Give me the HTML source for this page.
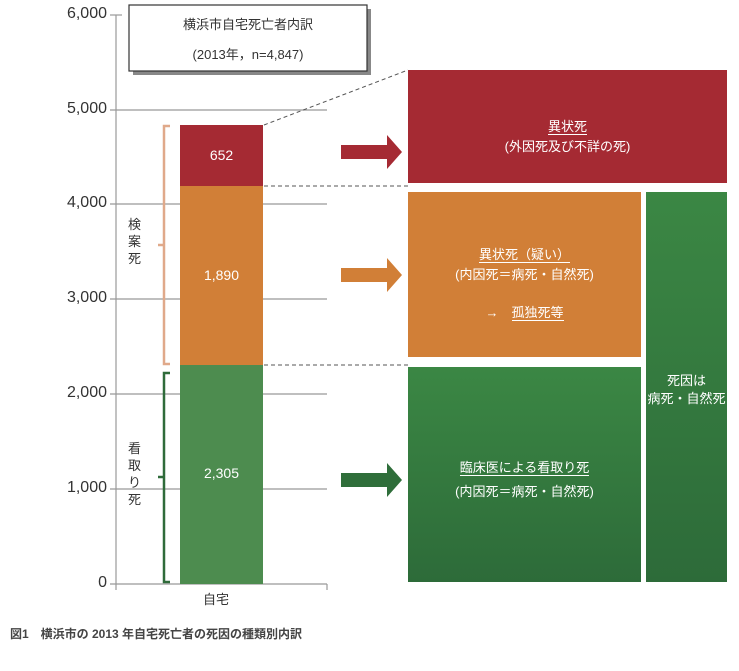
<!DOCTYPE html>
<html><head><meta charset="utf-8"><style>
body{margin:0;background:#fff;width:739px;height:671px;overflow:hidden;position:relative;font-family:"Liberation Sans","Noto Sans CJK JP",sans-serif;}
.a{position:absolute}
.t{position:absolute;font-size:13px;color:#333;}
.y{position:absolute;left:40px;width:67px;text-align:right;font-size:16px;color:#333;}
</style></head><body>
<svg class="a" style="left:0;top:0" width="739" height="671">
<defs>
<linearGradient id="g" x1="0" y1="0" x2="0" y2="1"><stop offset="0" stop-color="#3b8744"/><stop offset="1" stop-color="#2d6b39"/></linearGradient>
</defs>
<g stroke="#999" stroke-width="1.2">
<line x1="116" y1="15" x2="116" y2="590"/>
<line x1="110" y1="15" x2="122" y2="15"/>
<line x1="110" y1="110" x2="327" y2="110"/>
<line x1="110" y1="204" x2="327" y2="204"/>
<line x1="110" y1="299" x2="327" y2="299"/>
<line x1="110" y1="394" x2="327" y2="394"/>
<line x1="110" y1="489" x2="327" y2="489"/>
<line x1="110" y1="584" x2="327" y2="584"/>
<line x1="327" y1="584" x2="327" y2="590"/>
</g>
<rect x="133" y="9" width="238" height="66" fill="#888"/>
<rect x="129" y="5" width="238" height="66" fill="#fff" stroke="#333" stroke-width="1.2"/>
<rect x="180" y="125" width="83" height="61" fill="#a52a33"/>
<rect x="180" y="186" width="83" height="179" fill="#d17f37"/>
<rect x="180" y="365" width="83" height="219" fill="#4d8c4f"/>
<g stroke="#555" stroke-dasharray="4,3" fill="none">
<line x1="264" y1="125" x2="408" y2="70"/>
<line x1="264" y1="186" x2="408" y2="186"/>
<line x1="264" y1="365" x2="408" y2="365"/>
</g>
<path d="M170 126 h-6 v119 h-6 M164 245 v119 h6" stroke="#e0a98a" stroke-width="2.5" fill="none"/>
<path d="M170 373 h-6 v104 h-6 M164 477 v105 h6" stroke="#2f6b3a" stroke-width="2.5" fill="none"/>
<polygon points="341,145 387,145 387,135 402,152 387,169 387,159 341,159" fill="#a52a33"/>
<polygon points="341,268 387,268 387,258 402,275 387,292 387,282 341,282" fill="#d17f37"/>
<polygon points="341,473 387,473 387,463 402,480 387,497 387,487 341,487" fill="#2f6e3a"/>
<rect x="408" y="70" width="319" height="113" fill="#a52a33"/>
<rect x="408" y="192" width="233" height="165" fill="#d17f37"/>
<rect x="408" y="367" width="233" height="215" fill="url(#g)"/>
<rect x="646" y="192" width="81" height="390" fill="url(#g)"/>
</svg>
<div class="y" style="top:5px">6,000</div>
<div class="y" style="top:100px">5,000</div>
<div class="y" style="top:194px">4,000</div>
<div class="y" style="top:289px">3,000</div>
<div class="y" style="top:384px">2,000</div>
<div class="y" style="top:479px">1,000</div>
<div class="y" style="top:574px">0</div>
<div class="t" style="left:129px;top:14px;width:238px;text-align:center">横浜市自宅死亡者内訳</div>
<div class="t" style="left:129px;top:44px;width:238px;text-align:center">(2013年，n=4,847)</div>
<div class="t" style="left:180px;top:147px;width:83px;text-align:center;color:#fff;font-size:14px">652</div>
<div class="t" style="left:180px;top:267px;width:83px;text-align:center;color:#fff;font-size:14px">1,890</div>
<div class="t" style="left:180px;top:465px;width:83px;text-align:center;color:#fff;font-size:14px">2,305</div>
<div class="t" style="left:128px;top:216px;width:14px;line-height:17px">検案死</div>
<div class="t" style="left:128px;top:440px;width:14px;line-height:17px">看取り死</div>
<div class="t" style="left:203px;top:589px">自宅</div>
<div class="t" style="left:10px;top:625px;font-size:12px;font-weight:bold;color:#444">図1　横浜市の 2013 年自宅死亡者の死因の種類別内訳</div>
<div class="t" style="left:408px;top:117px;width:319px;text-align:center;color:#fff;line-height:20px"><span style="border-bottom:1px solid #fff">異状死</span><br>(外因死及び不詳の死)</div>
<div class="t" style="left:408px;top:245px;width:233px;text-align:center;color:#fff;line-height:20px"><span style="border-bottom:1px solid #fff">異状死（疑い）</span><br>(内因死＝病死・自然死)</div>
<div class="t" style="left:408px;top:302px;width:233px;text-align:center;color:#fff">→　<span style="border-bottom:1px solid #fff">孤独死等</span></div>
<div class="t" style="left:408px;top:456px;width:233px;text-align:center;color:#fff;line-height:24px"><span style="border-bottom:1px solid #fff">臨床医による看取り死</span><br>(内因死＝病死・自然死)</div>
<div class="t" style="left:646px;top:372px;width:81px;text-align:center;color:#fff;line-height:18px">死因は<br>病死・自然死</div>
</body></html>
